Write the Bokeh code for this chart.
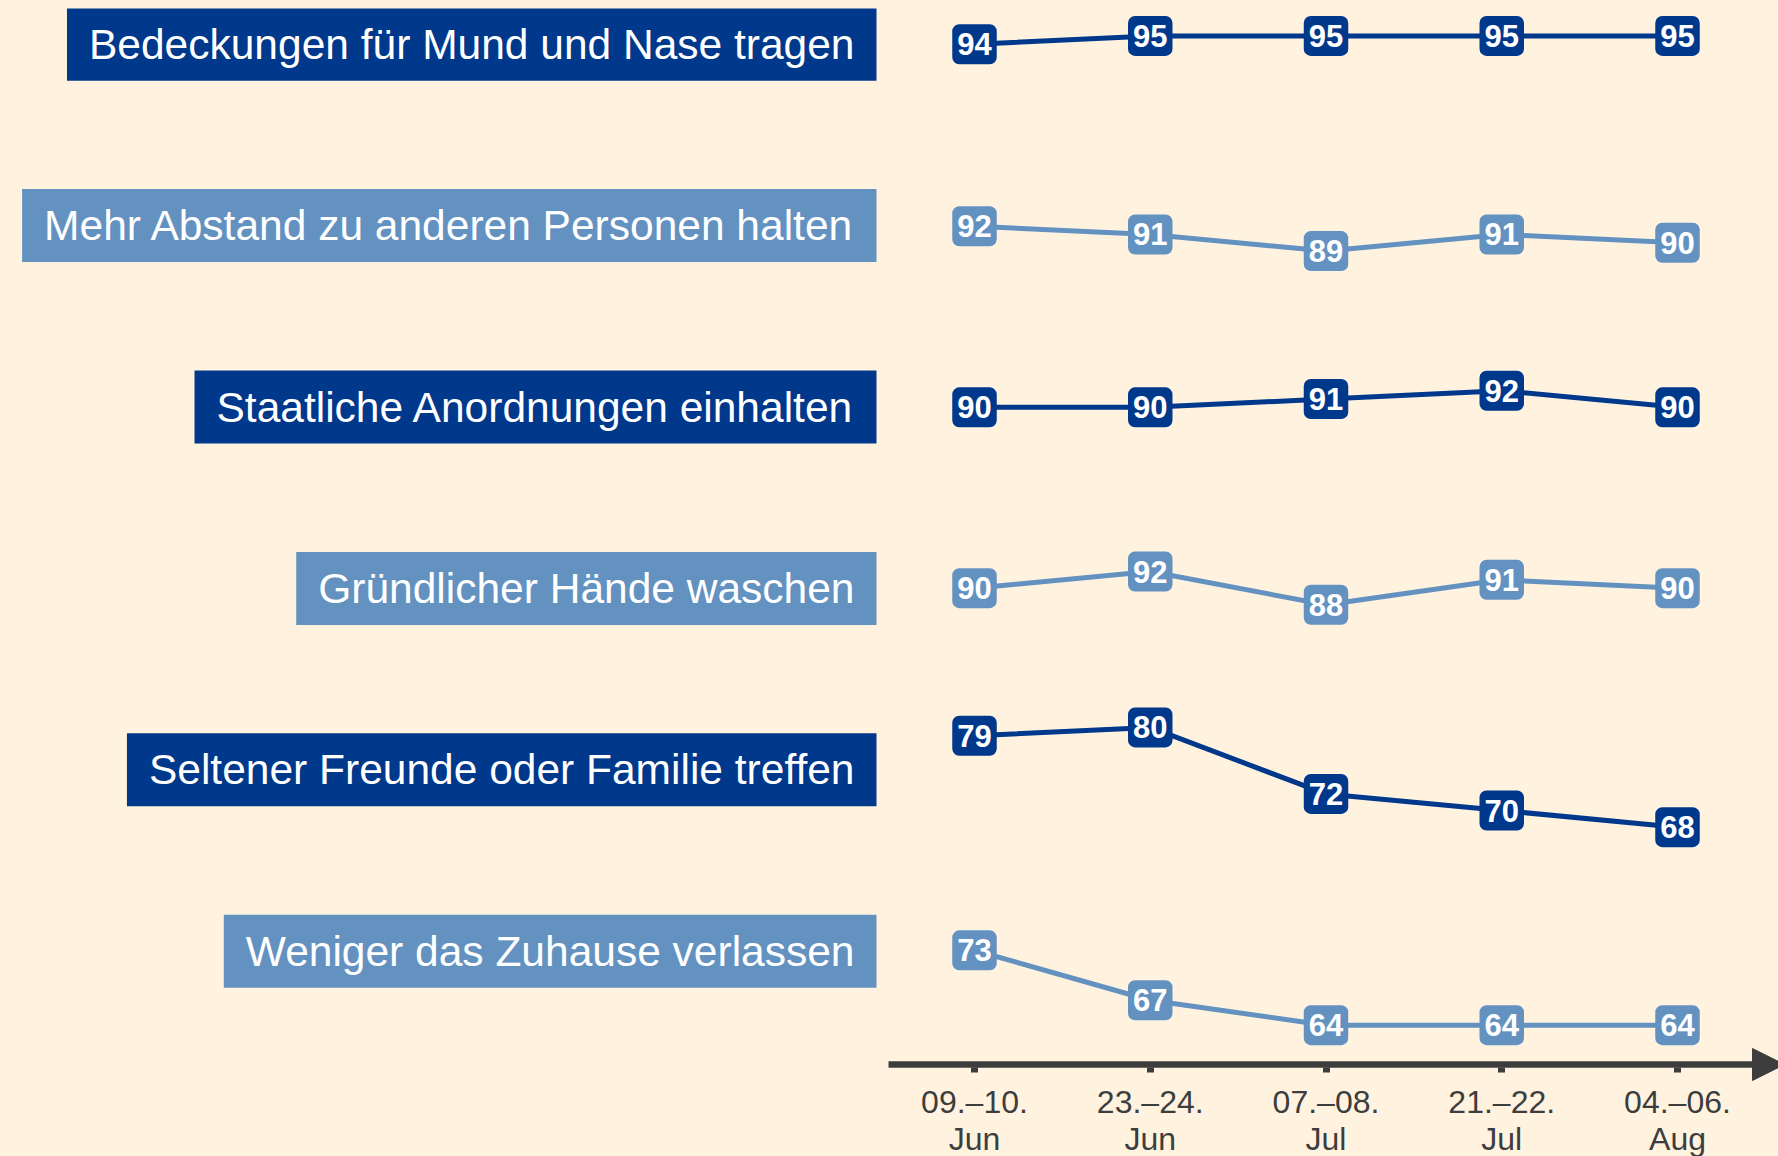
from bokeh.plotting import figure
from bokeh.models import Range1d, FixedTicker, Arrow, NormalHead, ColumnDataSource
from bokeh.embed import file_html
from bokeh.resources import INLINE
from bokeh.core.properties import value

# ---------------- data ----------------
dates = ["09.–10.\nJun", "23.–24.\nJun", "07.–08.\nJul", "21.–22.\nJul", "04.–06.\nAug"]
labels = [
    "Bedeckungen für Mund und Nase tragen",
    "Mehr Abstand zu anderen Personen halten",
    "Staatliche Anordnungen einhalten",
    "Gründlicher Hände waschen",
    "Seltener Freunde oder Familie treffen",
    "Weniger das Zuhause verlassen",
]
mund_nase = [94, 95, 95, 95, 95]
abstand = [92, 91, 89, 91, 90]
anordnungen = [90, 90, 91, 92, 90]
haende = [90, 92, 88, 91, 90]
treffen = [79, 80, 72, 70, 68]
zuhause = [73, 67, 64, 64, 64]
series = [mund_nase, abstand, anordnungen, haende, treffen, zuhause]

# ---------------- style / layout ----------------
BG = "#FFF3E0"
DARK = "#00388C"
LIGHT = "#6392C1"
AXIS = "#3D3D3D"
colors = [DARK, LIGHT, DARK, LIGHT, DARK, LIGHT]
FONT = value("Liberation Sans")

FW, FH = 1770, 1148           # frame size (px)
X0, DX = 966.0, 175.75        # frame x of first date, spacing
K = 8.31                      # px per percentage point
ROW0, ROWSTEP = 35.7, 181.4   # frame y (from top) of first row centre, row step
row_anchor = [94.0, 92.07, 90.04, 89.97, 74.9, 72.9]  # value placed at row centre
AXIS_Y = FH - 1056            # axis line centre, px from frame bottom

def xd(px):
    return (px - X0) / DX

p = figure(frame_width=FW, frame_height=FH,
           x_range=Range1d(xd(0), xd(FW)), y_range=Range1d(0, FH),
           output_backend="svg", toolbar_location=None, y_axis_location=None,
           min_border_left=0, min_border_right=0, min_border_top=0, min_border_bottom=0,
           background_fill_color=BG, border_fill_color=BG, outline_line_color=None)
p.grid.visible = False

ax = p.xaxis[0]
ax.fixed_location = AXIS_Y - 3.3
ax.ticker = FixedTicker(ticks=list(range(len(dates))))
ax.major_label_overrides = {i: d for i, d in enumerate(dates)}
ax.axis_line_color = None
ax.major_tick_in = 0
ax.major_tick_out = 5
ax.major_tick_line_width = 7
ax.major_tick_line_color = AXIS
ax.minor_tick_line_color = None
ax.major_label_text_font = "Liberation Sans"
ax.major_label_text_font_size = "32px"
ax.major_label_text_color = AXIS
ax.major_label_text_line_height = 1.03
ax.major_label_standoff = 11

xs = list(range(len(dates)))
extra = {}
for r in range(len(series)):
    cy = ROWSTEP * r + ROW0
    vc = row_anchor[r]
    extra[f"r{r}"] = Range1d(start=vc - (FH - cy) / K, end=vc + cy / K)
p.extra_y_ranges = extra

for r, vals in enumerate(series):
    name = f"r{r}"
    c = colors[r]
    src = ColumnDataSource(dict(x=xs, y=vals, t=[str(v) for v in vals]))
    p.line("x", "y", source=src, y_range_name=name, line_color=c, line_width=5)
    p.text("x", "y", text="t", source=src, y_range_name=name,
           text_color="white", text_font=FONT, text_font_style="bold",
           text_font_size="31px", text_align="center", text_baseline="middle",
           background_fill_color=c, border_line_color=None,
           padding=(5, 9), border_radius=7)
    lsrc = ColumnDataSource(dict(x=[xd(868)], y=[row_anchor[r]], t=[labels[r]]))
    p.text("x", "y", text="t", source=lsrc, y_range_name=name,
           text_color="white", text_font=FONT, text_font_size="42.5px",
           text_align="right", text_baseline="middle",
           background_fill_color=c, border_line_color=None, padding=(22, 13))

p.add_layout(Arrow(end=NormalHead(size=32, fill_color=AXIS, line_color=AXIS),
                   x_start=xd(880), y_start=AXIS_Y, x_end=xd(FW + 6), y_end=AXIS_Y,
                   line_width=6.5, line_color=AXIS))

html = file_html(p, INLINE)
html = html.replace("</head>",
    "<style>html,body{background:#FFF3E0;overflow:hidden;}body{margin:8px 0 0 8px !important;}</style></head>")
open("out.html", "w").write(html)
